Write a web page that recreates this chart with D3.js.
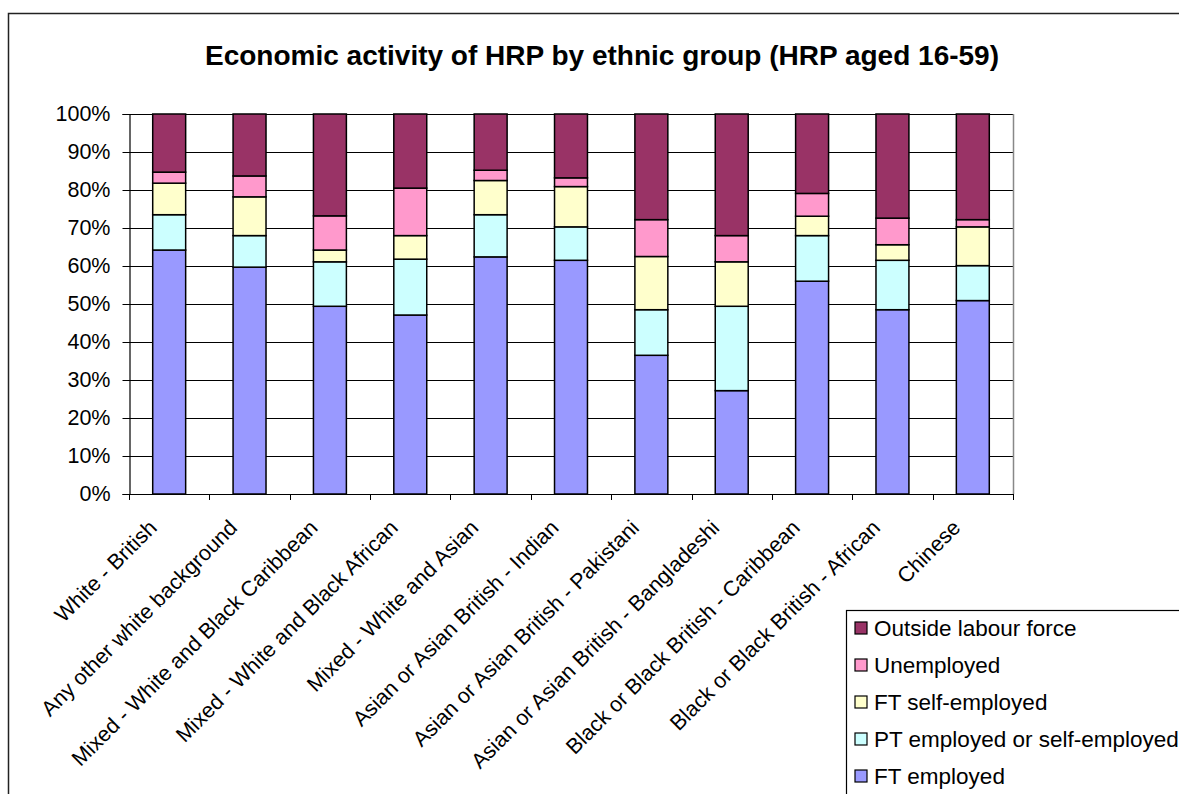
<!DOCTYPE html>
<html><head><meta charset="utf-8">
<script src="https://cdn.jsdelivr.net/npm/d3@7"></script>
<style>body{margin:0;background:#fff;} svg{display:block;font-family:"Liberation Sans",Arial,sans-serif;}</style>
</head><body>
<script>
const categories = ["White - British","Any other white background","Mixed - White and Black Caribbean","Mixed - White and Black African","Mixed - White and Asian","Asian or Asian British - Indian","Asian or Asian British - Pakistani","Asian or Asian British - Bangladeshi","Black or Black British - Caribbean","Black or Black British - African","Chinese"];
const seriesNames = ["FT employed","PT employed or self-employed","FT self-employed","Unemployed","Outside labour force"];
const ftEmployed   = [64.2,59.7,49.4,47.1,62.4,61.5,36.5,27.2,56.0,48.5,50.9];
const ptEmployed   = [9.3,8.3,11.7,14.7,11.1,8.8,12.0,22.2,12.0,13.0,9.2];
const ftSelfEmp    = [8.3,10.2,3.1,6.2,9.0,10.6,14.0,11.7,5.1,4.1,10.2];
const unemployed   = [2.9,5.5,9.0,12.5,2.7,2.3,9.7,6.9,6.0,7.0,1.9];
const outsideLF    = [15.3,16.3,26.8,19.5,14.8,16.8,27.8,32.0,20.9,27.4,27.8];
const colors = ["#9999FF","#CCFFFF","#FFFFCC","#FF99CC","#993366"];
const yTicks = [0,10,20,30,40,50,60,70,80,90,100];

const W=1179,H=794;
const svg=d3.select("body").append("svg").attr("width",W).attr("height",H);
// outer border
svg.append("rect").attr("x",8.5).attr("y",13.5).attr("width",W).attr("height",H).attr("fill","#fff").attr("stroke","#222").attr("stroke-width",1.5);

const pL=129,pR=1013,pT=114,pB=494;
const x=d3.scaleBand().domain(categories).range([pL,pR]).padding(0);
const y=d3.scaleLinear().domain([0,100]).range([pB,pT]);

svg.append("text").attr("x",602).attr("y",65).attr("text-anchor","middle")
  .attr("font-size",28).attr("font-weight","bold").text("Economic activity of HRP by ethnic group (HRP aged 16-59)");

// gridlines
svg.append("g").selectAll("line").data(yTicks).join("line")
  .attr("x1",pL).attr("x2",pR).attr("y1",d=>Math.round(y(d))+0.5).attr("y2",d=>Math.round(y(d))+0.5)
  .attr("stroke","#000").attr("stroke-width",1);
// plot right border
svg.append("line").attr("x1",pR+0.5).attr("x2",pR+0.5).attr("y1",pT).attr("y2",pB).attr("stroke","#888").attr("stroke-width",1.5);

const stackData=categories.map((c,i)=>{const v=[ftEmployed[i],ptEmployed[i],ftSelfEmp[i],unemployed[i],outsideLF[i]];const o={cat:c};seriesNames.forEach((s,j)=>o[s]=v[j]);return o;});
const stacked=d3.stack().keys(seriesNames)(stackData);
const bw=x.bandwidth()*0.41;
svg.append("g").selectAll("g").data(stacked).join("g").attr("fill",(d,i)=>colors[i])
  .selectAll("rect").data(d=>d).join("rect")
  .attr("x",d=>x(d.data.cat)+x.bandwidth()/2-bw/2)
  .attr("width",bw)
  .attr("y",d=>y(d[1])).attr("height",d=>y(d[0])-y(d[1]))
  .attr("stroke","#000").attr("stroke-width",1.5);

// y axis
const yAxis=d3.axisLeft(y).tickValues(yTicks).tickFormat(d=>d+"%").tickSize(7).tickPadding(12);
const ga=svg.append("g").attr("transform",`translate(${pL+0.5},0)`).call(yAxis);
ga.select(".domain").attr("stroke","#000").attr("stroke-width",1.2);
ga.selectAll(".tick text").attr("font-size",21.5).attr("fill","#000").attr("font-family","Liberation Sans, Arial, sans-serif");
ga.selectAll(".tick line").attr("stroke","#000");

// x axis line and ticks at category boundaries
svg.append("line").attr("x1",pL).attr("x2",pR).attr("y1",pB+0.5).attr("y2",pB+0.5).attr("stroke","#000").attr("stroke-width",1.2);
const bounds=categories.map(c=>x(c)).concat([pR]);
svg.append("g").selectAll("line").data(bounds).join("line")
  .attr("x1",d=>Math.round(d)+0.5).attr("x2",d=>Math.round(d)+0.5).attr("y1",pB).attr("y2",pB+6).attr("stroke","#000");

// rotated labels
svg.append("g").selectAll("text").data(categories).join("text")
  .attr("transform",d=>`translate(${x(d)+x.bandwidth()/2-11},529) rotate(-45)`)
  .attr("text-anchor","end").attr("font-size",21.5).attr("fill","#000").text(d=>d);

// legend
const lg=svg.append("g");
lg.append("rect").attr("x",846.5).attr("y",610.5).attr("width",400).attr("height",300).attr("fill","#fff").attr("stroke","#000").attr("stroke-width",1.2);
const legOrder=[4,3,2,1,0];
const li=lg.selectAll("g").data(legOrder).join("g").attr("transform",(d,i)=>`translate(855,${628+i*37})`);
li.append("rect").attr("x",0).attr("y",-6).attr("width",12).attr("height",12).attr("fill",d=>colors[d]).attr("stroke","#000").attr("stroke-width",1.2);
li.append("text").attr("x",19).attr("y",8).attr("font-size",22.5).attr("fill","#000").text(d=>seriesNames[d]);
</script>
</body></html>
